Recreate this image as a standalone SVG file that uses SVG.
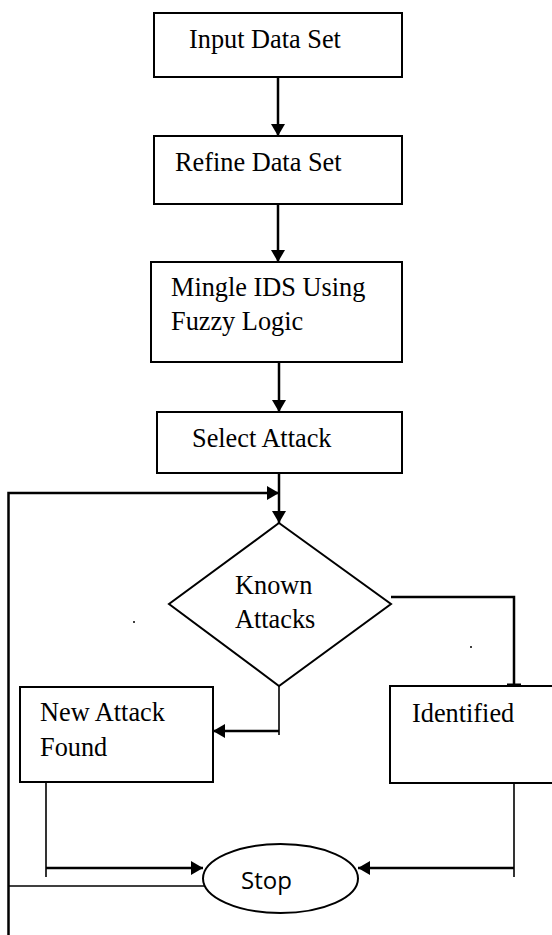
<svg xmlns="http://www.w3.org/2000/svg" width="552" height="935" viewBox="0 0 552 935">
<style>
.box{fill:#fff;stroke:#000;stroke-width:2}
.t{font-family:"Liberation Serif","Times New Roman",serif;font-size:26.3px;fill:#000}
.s{font-family:"Open Sans","Noto Sans",sans-serif;font-size:24px;fill:#000}
.c{fill:none;stroke:#000;stroke-width:2.5}
.thin{fill:none;stroke:#000;stroke-width:1.6}
</style>
<defs>
<marker id="ah" markerUnits="userSpaceOnUse" markerWidth="14" markerHeight="14" refX="12" refY="7" orient="auto" viewBox="0 0 14 14">
<path d="M0,0 L12,7 L0,14 z" fill="#000"/>
</marker>
</defs>
<rect width="552" height="935" fill="#fff"/>
<g id="connectors">
<line class="c" x1="278" y1="67" x2="278" y2="136" marker-end="url(#ah)"/>
<line class="c" x1="278" y1="204" x2="278" y2="262" marker-end="url(#ah)"/>
<line class="c" x1="279" y1="362" x2="279" y2="412" marker-end="url(#ah)"/>
<line class="c" x1="279" y1="473" x2="279" y2="523" marker-end="url(#ah)"/>
<polyline class="c" points="8.5,935 8.5,493 279,493" marker-end="url(#ah)"/>
<polyline class="c" points="391,597 514,597 514,686"/>
<line x1="507" y1="685" x2="521" y2="685" stroke="#000" stroke-width="3"/>
<line class="thin" x1="279" y1="667" x2="279" y2="735"/>
<line class="c" x1="279" y1="731" x2="213" y2="731" marker-end="url(#ah)"/>
<line class="thin" x1="46" y1="768" x2="46" y2="877"/>
<line class="c" x1="46" y1="868" x2="203" y2="868" marker-end="url(#ah)"/>
<line class="thin" x1="514" y1="768" x2="514" y2="877"/>
<line class="c" x1="514" y1="868" x2="358" y2="868" marker-end="url(#ah)"/>
<line class="thin" x1="8.5" y1="886" x2="205" y2="886"/>
</g>
<g id="input">
<rect class="box" x="154" y="13" width="248" height="64"/>
<text class="t" x="189" y="48">Input Data Set</text>
</g>
<g id="refine">
<rect class="box" x="154" y="136" width="248" height="68"/>
<text class="t" x="175" y="171">Refine Data Set</text>
</g>
<g id="mingle">
<rect class="box" x="151" y="262" width="251" height="100"/>
<text class="t" x="171" y="296">Mingle IDS Using</text>
<text class="t" x="171" y="330">Fuzzy Logic</text>
</g>
<g id="select">
<rect class="box" x="157" y="412" width="245" height="61"/>
<text class="t" x="192" y="447">Select Attack</text>
</g>
<g id="known">
<polygon class="box" points="279,523 391,604 279,686 169,604"/>
<text class="t" x="235" y="594">Known</text>
<text class="t" x="235" y="628">Attacks</text>
</g>
<g id="dots">
<circle cx="134" cy="622" r="1" fill="#000"/>
<circle cx="471" cy="647" r="1" fill="#000"/>
</g>
<g id="newattack">
<rect class="box" x="20" y="687" width="193" height="95"/>
<text class="t" x="40" y="721">New Attack</text>
<text class="t" x="40" y="756">Found</text>
</g>
<g id="identified">
<rect class="box" x="390" y="686" width="170" height="97"/>
<text class="t" x="412" y="722">Identified</text>
</g>
<g id="stop">
<ellipse class="box" cx="280.5" cy="878.5" rx="77.5" ry="34.5"/>
<text class="s" x="241" y="889">Stop</text>
</g>
</svg>
